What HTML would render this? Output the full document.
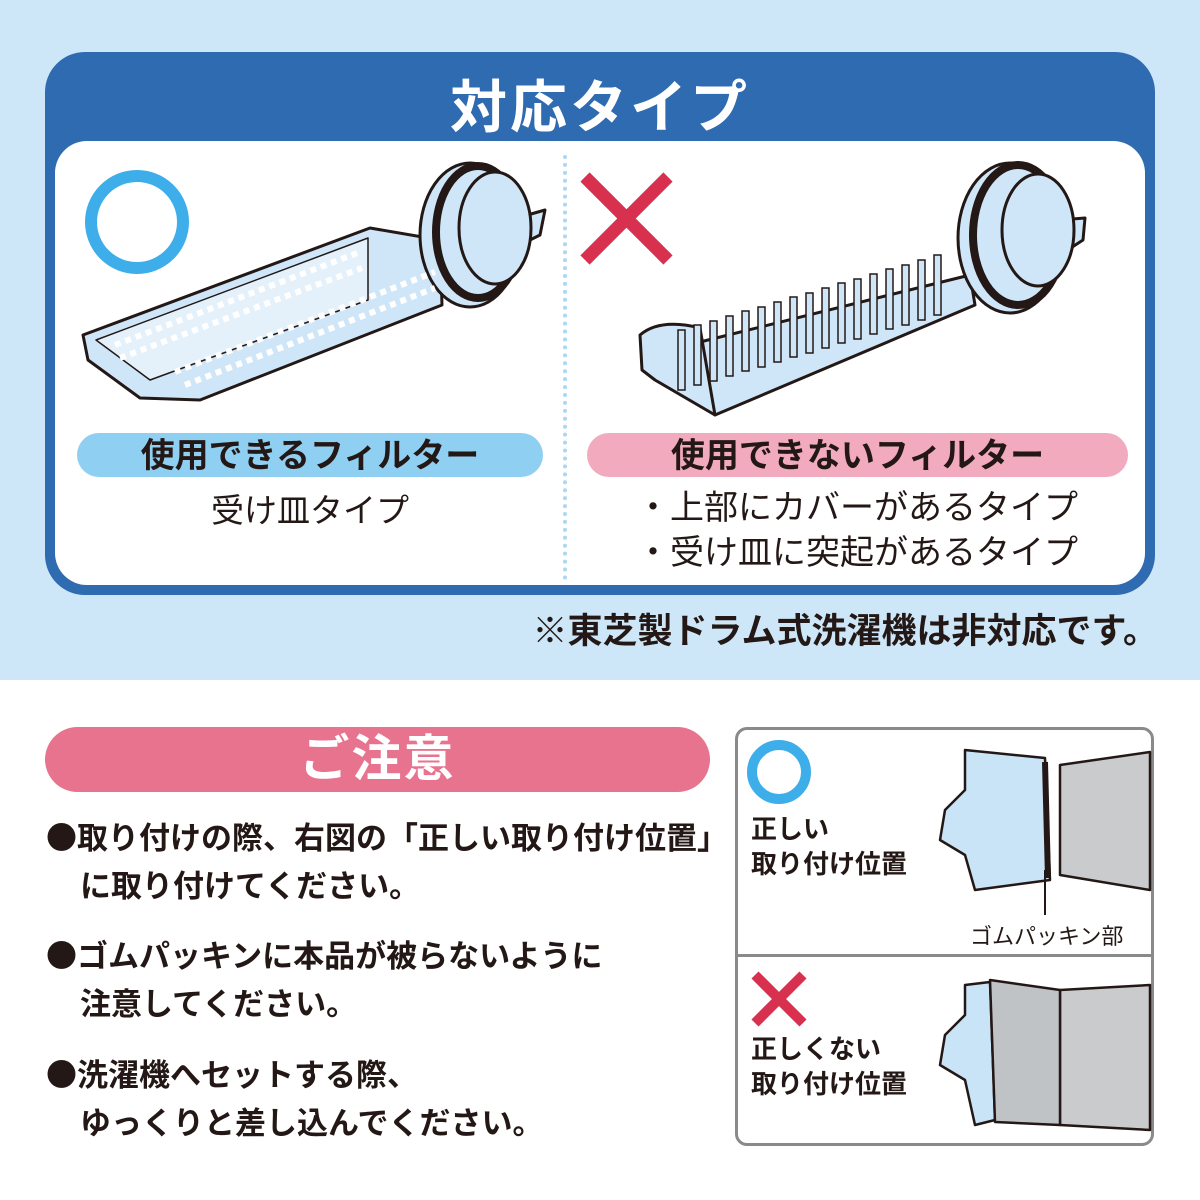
<!DOCTYPE html>
<html><head><meta charset="utf-8"><style>
*{margin:0;padding:0;box-sizing:border-box}
body{width:1200px;height:1200px;position:relative;background:#fff;font-family:"Liberation Sans","Noto Sans CJK JP",sans-serif;overflow:hidden;color:#231815}
.a{position:absolute}
.t{position:absolute;white-space:nowrap;font-weight:bold}
.b{font-family:"Noto Sans CJK JP",sans-serif}
</style></head><body>
<div class="a" style="left:0;top:0;width:1200px;height:680px;background:#cde7f8"></div>
<div class="a" style="left:45px;top:52px;width:1110px;height:543px;background:#2e6bb0;border-radius:40px"></div>
<div class="t" style="left:45px;width:1110px;top:62px;text-align:center;color:#fff;font-size:57px;letter-spacing:3px">対応タイプ</div>
<div class="a" style="left:55px;top:141px;width:1090px;height:444px;background:#fff;border-radius:32px"></div>
<div class="a" style="left:563px;top:155px;height:425px;border-left:4px dotted #a9d8f3"></div>

<svg class="a" style="left:0;top:0" width="1200" height="1200">
<circle cx="137" cy="222" r="46" fill="none" stroke="#3daee9" stroke-width="12"/>
<g stroke="#d8304f" stroke-width="13"><line x1="585" y1="177" x2="668" y2="260"/><line x1="668" y1="177" x2="585" y2="260"/></g>
<g stroke="#231815" stroke-width="3" fill="#cfe6f8" stroke-linejoin="round">
<polygon points="83,335 370,228 440,240 442,305 200,400 140,398 88,360"/>
<polygon points="96,340 368,238 368,300 150,380" fill="#e4f1fb" stroke-width="1.5"/>
<polygon points="510,220 545,210 540,235 510,250"/>
<ellipse cx="470" cy="235" rx="50" ry="72"/>
<ellipse cx="478" cy="232" rx="42" ry="66" fill="none" stroke-width="8"/>
<ellipse cx="495" cy="228" rx="36" ry="56"/>
</g>
<g stroke="#fff" stroke-width="6" stroke-dasharray="6,5">
<line x1="115" y1="345" x2="360" y2="252"/><line x1="120" y1="358" x2="362" y2="268"/>
<line x1="175" y1="372" x2="435" y2="272"/><line x1="185" y1="385" x2="435" y2="288"/>
</g>
<g stroke="#231815" stroke-width="3" fill="#cfe6f8" stroke-linejoin="round">
<polygon points="700,342 970,275 975,305 715,415 712,412"/>
<path d="M640,335 Q660,318 700,328 L715,415 L655,380 L642,370 Z"/>
<polygon points="1060,220 1085,218 1083,240 1060,255"/>
<ellipse cx="1010" cy="238" rx="52" ry="75"/>
<ellipse cx="1018" cy="235" rx="45" ry="70" fill="none" stroke-width="8"/>
<ellipse cx="1038" cy="230" rx="36" ry="56"/>
</g>
<g fill="#cfe6f8" stroke="#231815" stroke-width="1.5">
<rect x="678" y="330" width="7" height="60"/><rect x="694" y="325" width="7" height="60"/><rect x="710" y="321" width="7" height="60"/><rect x="726" y="316" width="7" height="60"/><rect x="742" y="311" width="7" height="60"/><rect x="758" y="307" width="7" height="60"/><rect x="774" y="302" width="7" height="60"/><rect x="790" y="297" width="7" height="60"/><rect x="806" y="293" width="7" height="60"/><rect x="822" y="288" width="7" height="60"/><rect x="838" y="283" width="7" height="60"/><rect x="854" y="279" width="7" height="60"/><rect x="870" y="274" width="7" height="60"/><rect x="886" y="269" width="7" height="60"/><rect x="902" y="265" width="7" height="60"/><rect x="918" y="260" width="7" height="60"/><rect x="934" y="255" width="7" height="60"/>
</g>
</svg>

<div class="a" style="left:77px;top:433px;width:466px;height:44px;background:#8fd0f2;border-radius:22px"></div>
<div class="t" style="left:77px;width:466px;top:434px;text-align:center;font-size:34px;line-height:44px">使用できるフィルター</div>
<div class="t" style="left:77px;width:466px;top:489px;text-align:center;font-size:33px;font-weight:normal;line-height:44px">受け皿タイプ</div>
<div class="a" style="left:587px;top:433px;width:541px;height:44px;background:#f2aabe;border-radius:22px"></div>
<div class="t" style="left:587px;width:541px;top:434px;text-align:center;font-size:34px;line-height:44px">使用できないフィルター</div>
<div class="t" style="left:636px;top:486px;font-size:34px;font-weight:normal;line-height:44px">・上部にカバーがあるタイプ</div>
<div class="t" style="left:636px;top:531px;font-size:34px;font-weight:normal;line-height:44px">・受け皿に突起があるタイプ</div>
<div class="t" style="right:42px;top:610px;font-size:35px;line-height:44px">※東芝製ドラム式洗濯機は非対応です。</div>

<div class="a" style="left:45px;top:727px;width:665px;height:65px;background:#e8738f;border-radius:33px"></div>
<div class="t" style="left:45px;width:665px;top:727px;text-align:center;color:#fff;font-size:50px;letter-spacing:2px;line-height:65px">ご注意</div>
<div class="t" style="left:46px;top:812px;font-size:31px;line-height:48px"><span class="b">●</span>取り付けの際、右図の「正しい取り付け位置」<br><span style="padding-left:34px">に取り付けてください。</span></div>
<div class="t" style="left:46px;top:930px;font-size:31px;line-height:48px"><span class="b">●</span>ゴムパッキンに本品が被らないように<br><span style="padding-left:34px">注意してください。</span></div>
<div class="t" style="left:46px;top:1049px;font-size:31px;line-height:48px"><span class="b">●</span>洗濯機へセットする際、<br><span style="padding-left:34px">ゆっくりと差し込んでください。</span></div>

<div class="a" style="left:735px;top:727px;width:419px;height:419px;border:3px solid #8a8a8a;border-radius:12px"></div>
<div class="a" style="left:735px;top:954px;width:419px;border-top:3px solid #8a8a8a"></div>
<svg class="a" style="left:0;top:0" width="1200" height="1200">
<circle cx="779" cy="772" r="27" fill="none" stroke="#3daee9" stroke-width="10"/>
<g stroke="#d8304f" stroke-width="10"><line x1="755" y1="975" x2="803" y2="1023"/><line x1="803" y1="975" x2="755" y2="1023"/></g>
<g stroke="#231815" stroke-width="2.5" stroke-linejoin="round">
<path d="M1060,765 L1150,752 L1150,890 L1060,875 Z" fill="#c9cbcd"/>
<path d="M965,750 L1045,758 L1050,880 L975,890 L965,855 L940,840 L945,810 L965,790 Z" fill="#c9e3f7"/>
<line x1="1045" y1="762" x2="1048" y2="878" stroke-width="6"/>
<path d="M1060,990 L1150,985 L1150,1130 L1060,1125 Z" fill="#c9cbcd"/>
<path d="M965,985 L990,982 L995,1120 L975,1125 L965,1080 L940,1065 L945,1035 L965,1015 Z" fill="#c9e3f7"/>
<path d="M990,980 L1060,990 L1060,1125 L995,1122 Z" fill="#bfc3c6"/>
</g>
<line x1="1045" y1="870" x2="1045" y2="915" stroke="#231815" stroke-width="2"/>
</svg>
<div class="t" style="left:751px;top:812px;font-size:26px;line-height:35px">正しい<br>取り付け位置</div>
<div class="t" style="left:751px;top:1032px;font-size:26px;line-height:35px">正しくない<br>取り付け位置</div>
<div class="t" style="left:970px;top:919px;font-size:22px;font-weight:normal">ゴムパッキン部</div>
</body></html>
